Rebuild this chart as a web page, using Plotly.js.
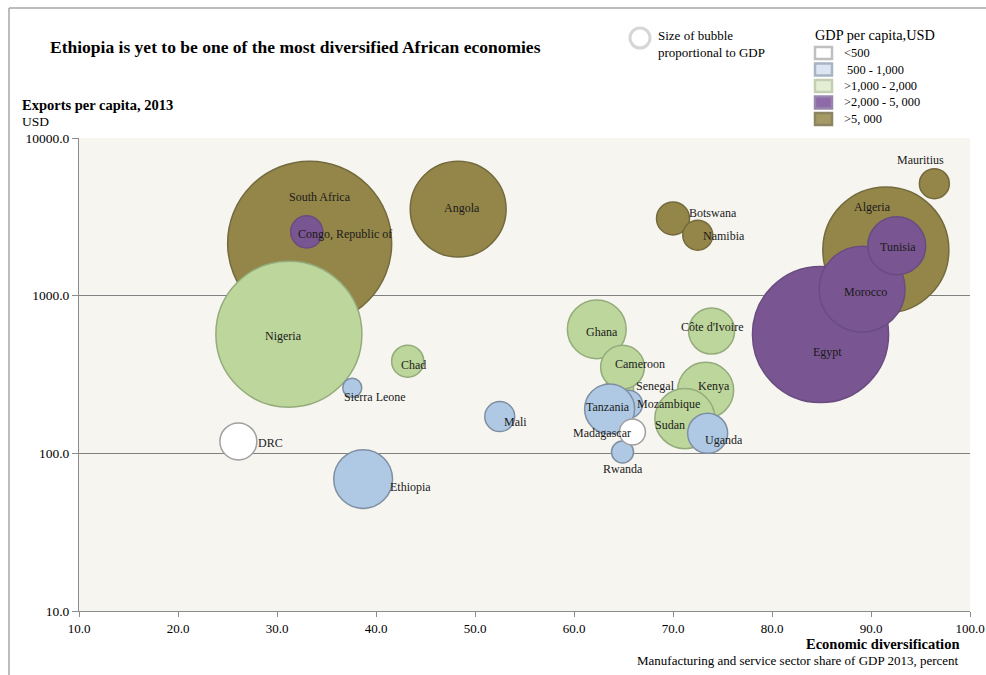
<!DOCTYPE html>
<html>
<head>
<meta charset="utf-8">
<script src="https://cdn.plot.ly/plotly-3.0.1.min.js"></script>
<style>
  html, body { margin: 0; padding: 0; background: #ffffff; }
  #chart { width: 986px; height: 675px; }
</style>
</head>
<body>
<div id="chart"></div>
<script>
// values
var countries = ["South Africa", "Angola", "Botswana", "Namibia", "Algeria", "Mauritius",
    "Egypt", "Morocco", "Tunisia", "Congo, Republic of",
    "Senegal", "Nigeria", "Chad", "Ghana", "Cameroon", "Kenya", "Sudan", "Côte d'Ivoire",
    "Sierra Leone", "Mali", "Ethiopia", "Mozambique", "Tanzania", "Rwanda", "Uganda",
    "DRC", "Madagascar"];
var diversification = [33.3, 48.3, 70.0, 72.5, 91.5, 96.4,
    84.9, 89.1, 92.6, 33.0,
    64.6, 31.2, 43.2, 62.3, 64.9, 73.3, 71.2, 73.9,
    37.6, 52.5, 38.7, 65.5, 63.6, 64.9, 73.5,
    26.1, 65.9];
var exportsPerCapita = [2150, 3540, 3090, 2420, 1950, 5130,
    567, 1100, 2070, 2540,
    259, 570, 384, 612, 352, 251, 166, 596,
    261, 171, 68.7, 205, 191, 102, 134,
    119, 136.5];
var gdpBillions = [366, 125, 14.8, 12.2, 216, 12.2,
    252, 100.6, 45.7, 14,
    10.7, 290, 14, 47, 26, 42.6, 49, 28.8,
    4.9, 12.2, 47, 10.7, 34, 6.6, 21.8,
    18.6, 9.2];
// 0: <500, 1: 500-1,000, 2: >1,000-2,000, 3: >2,000-5,000, 4: >5,000
var incomeGroup = [4, 4, 4, 4, 4, 4,
    3, 3, 3, 3,
    2, 2, 2, 2, 2, 2, 2, 2,
    1, 1, 1, 1, 1, 1, 1,
    0, 0];

var groupLabels = ["<500", " 500 - 1,000", ">1,000 - 2,000", ">2,000 - 5, 000", ">5, 000"];

var xTicks = [10, 20, 30, 40, 50, 60, 70, 80, 90, 100];
var yTicks = [10, 100, 1000, 10000];

// styles
var bubbleFill = ["#ffffff", "#afc9e4", "#bdd69b", "#795591", "#948649"];
var bubbleLine = ["#a0a0a0", "#7f8fa3", "#94ab7c", "#6a4c80", "#736a3e"];
var keyFill = ["#ffffff", "#dce6f2", "#e4eed4", "#8e6aa8", "#a59a64"];
var keyLine = ["#bfbfbf", "#a6b4c4", "#c3cfb0", "#9a86ad", "#8c8462"];

// label offsets in pixels from bubble centre (dx right, dy up)
var labelShift = [[10, 46], [4, 1], [40, 5], [26, -1], [-13, 43], [-14, 24],
    [7, -17], [3, -3], [1, -1], [38, -2],
    [36, 2], [-5, -2], [6, -4], [5, -3], [17, 3], [8, 4], [-15, -6], [0, 4],
    [23, -9], [16, -5], [47, -8], [40, 0], [-2, 2], [0, -17], [16, -7],
    [32, -2], [-30, -1]];

var FONT = "Liberation Serif, Times New Roman, serif";

// plot area in pixels, used to place the decorations
var L = 79, R = 970, T = 138, B = 611;
function px(x) { return (x - L) / (R - L); }
function py(y) { return (B - y) / (B - T); }

// draw order: olive, purple, green, blue, white
var drawOrder = [4, 3, 2, 1, 0];
var traces = drawOrder.map(function (g) {
    var xs = [], ys = [], ss = [], names = [];
    for (var i = 0; i < countries.length; i++) {
        if (incomeGroup[i] === g) {
            xs.push(diversification[i]);
            ys.push(exportsPerCapita[i]);
            ss.push(gdpBillions[i]);
            names.push(countries[i]);
        }
    }
    return {
        type: "scatter",
        mode: "markers",
        x: xs,
        y: ys,
        text: names,
        name: groupLabels[g],
        showlegend: false,
        hoverinfo: "text",
        marker: {
            size: ss,
            sizemode: "area",
            sizeref: 0.0272,
            color: bubbleFill[g],
            opacity: 1,
            line: { color: bubbleLine[g], width: 1.5 }
        }
    };
});

var annotations = [];
for (var i = 0; i < countries.length; i++) {
    annotations.push({
        x: diversification[i],
        y: Math.log10(exportsPerCapita[i]),
        xref: "x", yref: "y",
        text: countries[i],
        showarrow: false,
        xshift: labelShift[i][0],
        yshift: labelShift[i][1],
        font: { family: FONT, size: 12, color: "#1a1a1a" }
    });
}

// titles and notes
annotations.push({
    xref: "paper", yref: "paper", x: px(295), y: py(47), xanchor: "center", yanchor: "middle",
    text: "<b>Ethiopia is yet to be one of the most diversified African economies</b>",
    showarrow: false, font: { family: FONT, size: 17.5, color: "#000000" }
});
annotations.push({
    xref: "paper", yref: "paper", x: px(20), y: py(105), xanchor: "left", yanchor: "middle",
    text: "<b>Exports per capita, 2013</b>",
    showarrow: false, font: { family: FONT, size: 14.5, color: "#000000" }
});
annotations.push({
    xref: "paper", yref: "paper", x: px(20), y: py(121), xanchor: "left", yanchor: "middle",
    text: "USD", showarrow: false, font: { family: FONT, size: 13.5, color: "#000000" }
});
annotations.push({
    xref: "paper", yref: "paper", x: px(961), y: py(644), xanchor: "right", yanchor: "middle",
    text: "<b>Economic diversification</b>",
    showarrow: false, font: { family: FONT, size: 14.5, color: "#000000" }
});
annotations.push({
    xref: "paper", yref: "paper", x: px(961), y: py(660), xanchor: "right", yanchor: "middle",
    text: "Manufacturing and service sector share of GDP 2013, percent",
    showarrow: false, font: { family: FONT, size: 13, color: "#000000" }
});
annotations.push({
    xref: "paper", yref: "paper", x: px(656), y: py(44), xanchor: "left", yanchor: "middle",
    align: "left",
    text: "Size of bubble<br>proportional to GDP",
    showarrow: false, font: { family: FONT, size: 13, color: "#000000" }
});
annotations.push({
    xref: "paper", yref: "paper", x: px(813), y: py(35), xanchor: "left", yanchor: "middle",
    text: "GDP per capita,USD",
    showarrow: false, font: { family: FONT, size: 14.3, color: "#000000" }
});

var shapes = [
    // frame
    { type: "line", xref: "paper", yref: "paper", x0: px(9), x1: px(9), y0: py(8), y1: py(675),
      line: { color: "#a6a6a6", width: 1.5 } },
    { type: "line", xref: "paper", yref: "paper", x0: px(9), x1: px(986), y0: py(8), y1: py(8),
      line: { color: "#a6a6a6", width: 1.5 } },
    // bubble size key
    { type: "circle", xref: "paper", yref: "paper", x0: px(630), x1: px(650), y0: py(28), y1: py(48),
      line: { color: "#d6d6d6", width: 3 }, fillcolor: "rgba(0,0,0,0)" }
];

// colour key
for (var g = 0; g < groupLabels.length; g++) {
    var cy = 53 + g * 16.5;
    shapes.push({
        type: "rect", xref: "paper", yref: "paper",
        x0: px(815), x1: px(832), y0: py(cy - 6), y1: py(cy + 6),
        fillcolor: keyFill[g], line: { color: keyLine[g], width: 2.5 }
    });
    annotations.push({
        xref: "paper", yref: "paper", x: px(842), y: py(cy), xanchor: "left", yanchor: "middle",
        text: groupLabels[g].replace("<", "&lt;").replace(">", "&gt;"),
        showarrow: false, font: { family: FONT, size: 12.4, color: "#000000" }
    });
}

var layout = {
    width: 986,
    height: 675,
    margin: { l: L, r: 986 - R, t: T, b: 675 - B, pad: 0 },
    paper_bgcolor: "#ffffff",
    plot_bgcolor: "#f6f5f0",
    font: { family: FONT, size: 13, color: "#000000" },
    showlegend: false,
    xaxis: {
        range: [10, 100],
        tickvals: xTicks,
        ticktext: xTicks.map(function (v) { return v.toFixed(1); }),
        showgrid: false,
        zeroline: false,
        showline: true,
        linecolor: "#8c8c8c",
        linewidth: 1,
        ticks: "outside",
        ticklen: 5,
        tickcolor: "#8c8c8c",
        tickfont: { family: FONT, size: 13 }
    },
    yaxis: {
        type: "log",
        range: [1, 4],
        tickvals: yTicks,
        ticktext: yTicks.map(function (v) { return v.toFixed(1); }),
        showgrid: true,
        gridcolor: "#808080",
        gridwidth: 1,
        zeroline: false,
        showline: true,
        linecolor: "#8c8c8c",
        linewidth: 1,
        ticks: "outside",
        ticklen: 6,
        tickcolor: "#8c8c8c",
        tickfont: { family: FONT, size: 13.5 }
    },
    annotations: annotations,
    shapes: shapes
};

var config = { responsive: false, displaylogo: false, displayModeBar: false, staticPlot: true };

Plotly.newPlot(document.getElementById("chart"), traces, layout, config);
</script>
</body>
</html>
